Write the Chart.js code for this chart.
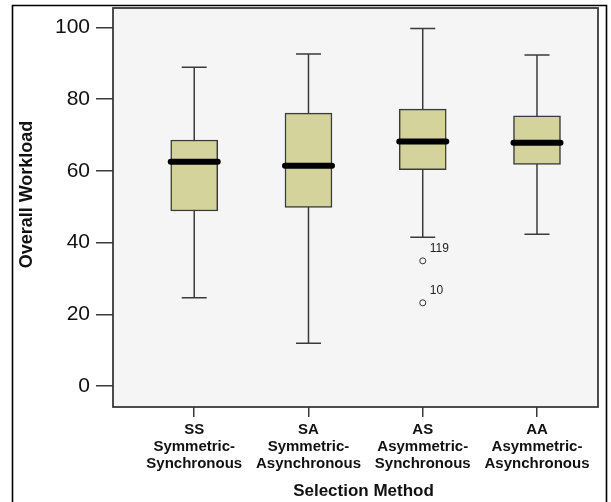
<!DOCTYPE html>
<html><head><meta charset="utf-8">
<script src="https://cdn.jsdelivr.net/npm/chart.js@4.4.1/dist/chart.umd.min.js"></script>
<style>html,body{margin:0;padding:0;background:#fff;}canvas{display:block;}</style>
</head><body>
<canvas id="c" width="611" height="502"></canvas>
<script>
// ---- data ----
const categories = [
  ["SS", "Symmetric-", "Synchronous"],
  ["SA", "Symmetric-", "Asynchronous"],
  ["AS", "Asymmetric-", "Synchronous"],
  ["AA", "Asymmetric-", "Asynchronous"]
];
const whiskerLow  = [24.6, 11.9, 41.5, 42.3];
const q1          = [48.8, 49.8, 60.3, 61.8];
const median      = [62.5, 61.4, 68.2, 67.8];
const q3          = [68.6, 76.1, 77.2, 75.3];
const whiskerHigh = [88.9, 92.6, 99.7, 92.3];
const outlierCategory = [2, 2];
const outlierValues   = [34.9, 23.2];
const outlierLabels   = ["119", "10"];
const yTickValues = [0, 20, 40, 60, 80, 100];
const xTitle = "Selection Method";
const yTitle = "Overall Workload";

// ---- styles ----
const FONT = '"Liberation Sans", Arial, Helvetica, sans-serif';
const INK = '#111111';
const LINE = '#3a3a3a';
const BOX_FILL = '#d3d39b';
const PLOT_BG = '#f5f5f5';

const boxData = categories.map((c, i) => ({ x: i, y: [q1[i], q3[i]] }));
const outlierData = outlierValues.map((v, i) => ({ x: outlierCategory[i], y: v }));

const boxParts = {
  id: 'boxParts',
  beforeDraw(chart) {
    const ctx = chart.ctx, a = chart.chartArea;
    ctx.save();
    ctx.fillStyle = '#ffffff';
    ctx.fillRect(0, 0, chart.width, chart.height);
    ctx.fillStyle = PLOT_BG;
    ctx.fillRect(a.left, a.top, a.right - a.left, a.bottom - a.top);
    ctx.strokeStyle = '#000';
    ctx.lineWidth = 1.6;
    ctx.beginPath();
    ctx.moveTo(12.5, 510); ctx.lineTo(12.5, 5.5); ctx.lineTo(606.5, 5.5); ctx.lineTo(606.5, 510);
    ctx.stroke();
    ctx.restore();
  },
  beforeDatasetsDraw(chart) {
    const ctx = chart.ctx, xs = chart.scales.x, ys = chart.scales.y;
    ctx.save();
    ctx.strokeStyle = LINE;
    ctx.lineWidth = 1.5;
    const cap = 12.5;
    categories.forEach((c, i) => {
      const x = xs.getPixelForValue(i);
      const yLo = ys.getPixelForValue(whiskerLow[i]);
      const yHi = ys.getPixelForValue(whiskerHigh[i]);
      ctx.beginPath();
      ctx.moveTo(x, yLo); ctx.lineTo(x, yHi);
      ctx.moveTo(x - cap, yLo); ctx.lineTo(x + cap, yLo);
      ctx.moveTo(x - cap, yHi); ctx.lineTo(x + cap, yHi);
      ctx.stroke();
    });
    ctx.restore();
  },
  afterDatasetsDraw(chart) {
    const ctx = chart.ctx, xs = chart.scales.x, ys = chart.scales.y, a = chart.chartArea;
    ctx.save();
    // medians
    ctx.strokeStyle = '#000';
    ctx.lineWidth = 6;
    ctx.lineCap = 'round';
    categories.forEach((c, i) => {
      const x = xs.getPixelForValue(i);
      const y = ys.getPixelForValue(median[i]);
      ctx.beginPath();
      ctx.moveTo(x - 23.5, y); ctx.lineTo(x + 23.5, y);
      ctx.stroke();
    });
    // outlier labels
    ctx.fillStyle = '#222';
    ctx.font = '12px ' + FONT;
    ctx.textAlign = 'left';
    ctx.textBaseline = 'middle';
    outlierValues.forEach((v, i) => {
      const x = xs.getPixelForValue(outlierCategory[i]);
      const y = ys.getPixelForValue(v);
      ctx.fillText(outlierLabels[i], x + 7, y - 12);
    });
    // plot frame
    ctx.lineCap = 'butt';
    ctx.strokeStyle = LINE;
    ctx.lineWidth = 1.8;
    ctx.strokeRect(a.left, a.top, a.right - a.left, a.bottom - a.top);
    ctx.restore();
  },
  afterDraw(chart) {
    const ctx = chart.ctx, a = chart.chartArea;
    ctx.save();
    ctx.fillStyle = INK;
    ctx.textAlign = 'center';
    ctx.textBaseline = 'middle';
    ctx.font = 'bold 17px ' + FONT;
    ctx.fillText(xTitle, (a.left + a.right) / 2 + 8, 491);
    ctx.translate(27, (a.top + a.bottom) / 2 - 13);
    ctx.rotate(-Math.PI / 2);
    ctx.font = 'bold 18px ' + FONT;
    ctx.fillText(yTitle, 0, 0);
    ctx.restore();
  }
};

new Chart(document.getElementById('c'), {
  type: 'bar',
  data: {
    datasets: [
      {
        type: 'bar',
        data: boxData,
        backgroundColor: BOX_FILL,
        borderColor: LINE,
        borderWidth: 1.5,
        borderSkipped: false,
        barThickness: 47,
        grouped: false
      },
      {
        type: 'scatter',
        data: outlierData,
        pointRadius: 3,
        pointBackgroundColor: '#ffffff',
        pointBorderColor: '#333333',
        pointBorderWidth: 1
      }
    ]
  },
  options: {
    responsive: false,
    devicePixelRatio: 1,
    animation: false,
    layout: { padding: { left: 0, top: 8, right: 13, bottom: 0 } },
    plugins: { legend: { display: false }, tooltip: { enabled: false }, title: { display: false } },
    scales: {
      x: {
        type: 'linear',
        min: -0.711,
        max: 3.534,
        offset: false,
        afterBuildTicks: s => { s.ticks = categories.map((c, i) => ({ value: i })); },
        afterFit: s => { s.height = 95; s.paddingLeft = 0; s.paddingRight = 0; },
        ticks: {
          callback: v => categories[v],
          autoSkip: false,
          maxRotation: 0,
          minRotation: 0,
          padding: 4.5,
          color: INK,
          font: { family: FONT, size: 15, weight: 'bold', lineHeight: 17 / 15 }
        },
        grid: { offset: false, drawOnChartArea: false, drawTicks: true, tickLength: 10, color: LINE, lineWidth: 1.5 },
        border: { display: false },
        title: { display: false }
      },
      y: {
        type: 'linear',
        min: -5.85,
        max: 105.4,
        afterBuildTicks: s => { s.ticks = yTickValues.map(v => ({ value: v })); },
        afterFit: s => { s.width = 113; s.paddingTop = 0; s.paddingBottom = 0; },
        ticks: {
          padding: 6,
          color: INK,
          font: { family: FONT, size: 21 }
        },
        grid: { drawOnChartArea: false, drawTicks: true, tickLength: 17, color: LINE, lineWidth: 1.5 },
        border: { display: false },
        title: { display: false }
      }
    }
  },
  plugins: [boxParts]
});
</script>
</body></html>
